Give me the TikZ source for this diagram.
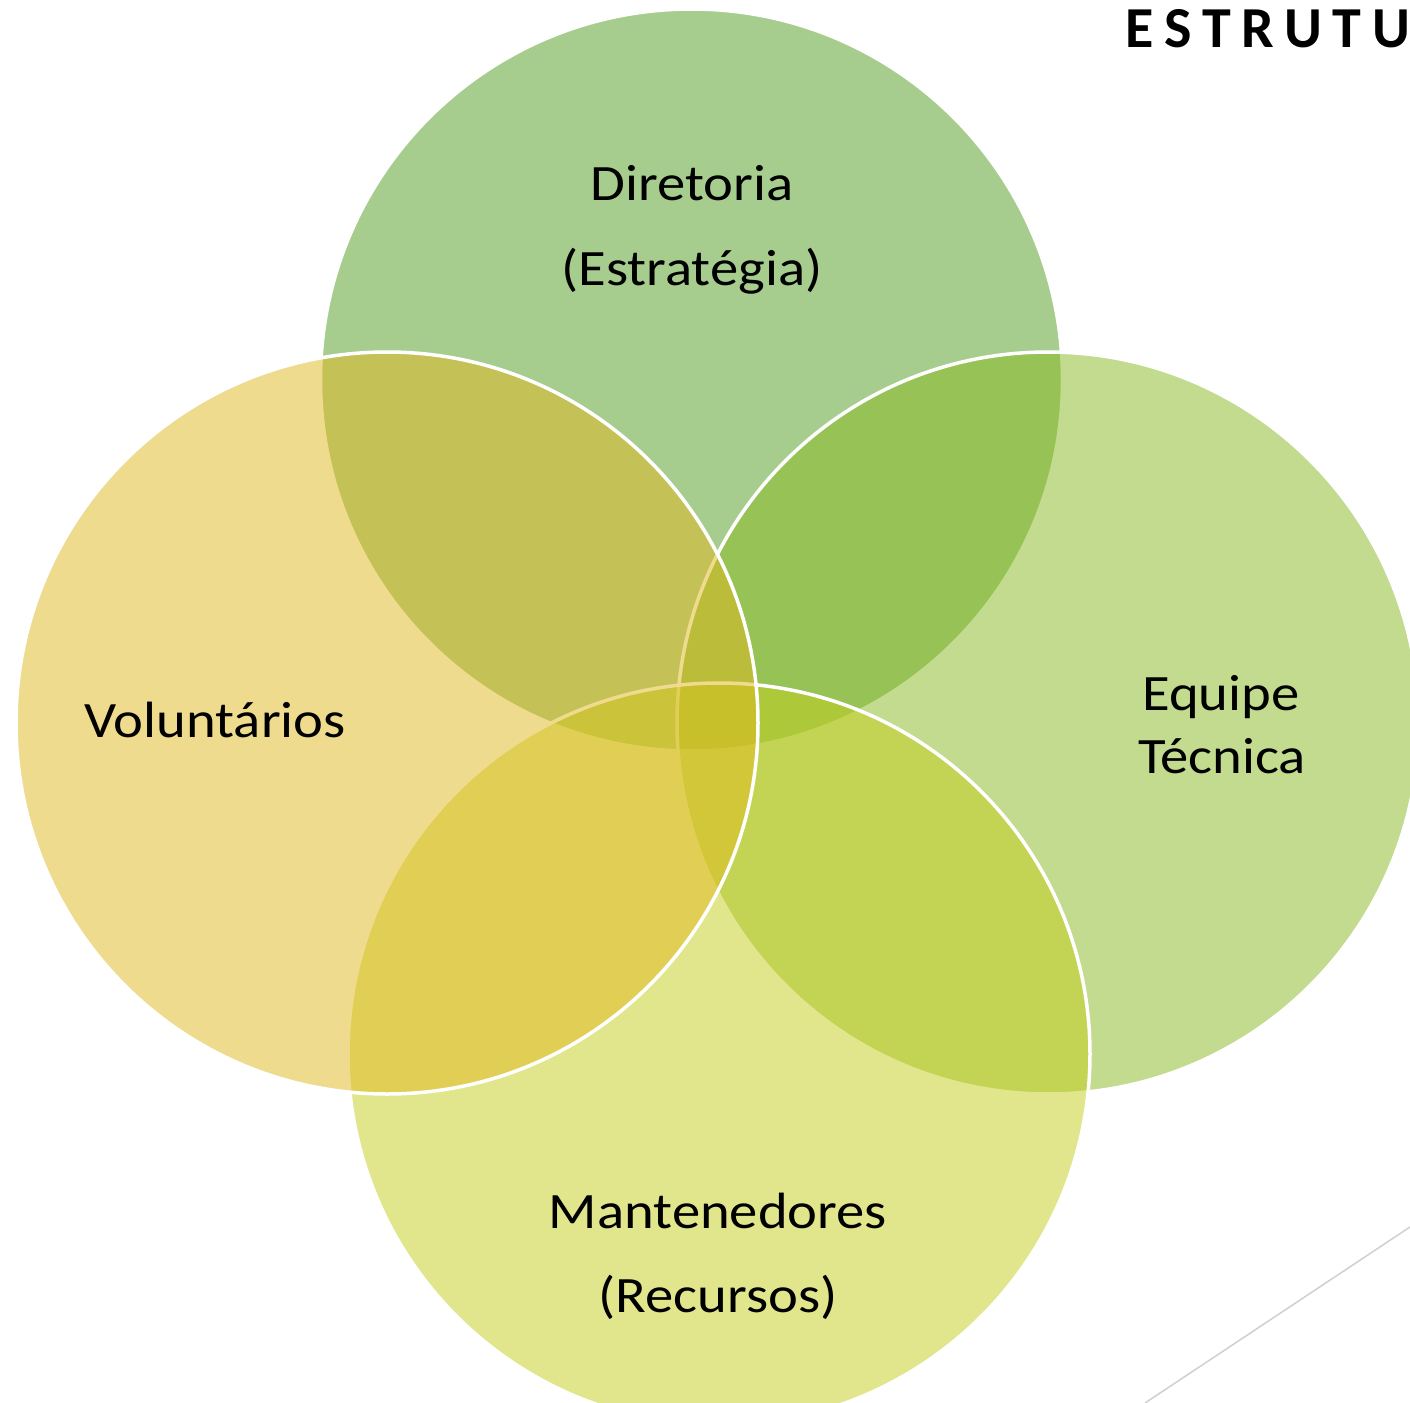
\documentclass[tikz,border=0pt]{standalone}
\usepackage{graphicx}
\usepackage{fontspec}
\setmainfont{Carlito}
\newfontfamily\titlefont[LetterSpace=19]{Carlito}
\definecolor{cTop}{RGB}{81,157,31}
\definecolor{cRight}{RGB}{135,185,31}
\definecolor{cBottom}{RGB}{197,207,27}
\definecolor{cLeft}{RGB}{225,185,31}
\definecolor{cLine}{RGB}{208,208,208}
\newcommand{\widetext}[1]{\scalebox{1.11}[1]{#1}}
\tikzset{
  venn/.style={fill opacity=0.5, draw=white, draw opacity=1, line width=1.75pt},
  lbl/.style={anchor=base, font=\fontsize{25.5pt}{30pt}\selectfont, text=black, inner sep=0pt},
}
\begin{document}
\begin{tikzpicture}[x=0.5pt,y=-0.5pt]
\useasboundingbox (0,0) rectangle (1410,1403);
\coordinate (cT) at (691.5,380);
\coordinate (cR) at (1048,723);
\coordinate (cB) at (719,1054);
\coordinate (cL) at (387,723);
\fill[white] (0,0) rectangle (1410,1403);
\draw[cLine, line width=0.75pt] (1410,1227) coordinate (g1) -- (1145,1403) coordinate (g2);
\path[venn, fill=cTop] (cT) circle[radius=185.5pt];
\path[venn, fill=cRight] (cR) circle[radius=185.5pt];
\path[venn, fill=cBottom] (cB) circle[radius=185.5pt];
\path[venn, fill=cLeft] (cL) circle[radius=185.5pt];
\node[lbl] (t1) at (692,200) {\widetext{Diretoria}};
\node[lbl] (t2) at (692,285) {\widetext{(Estratégia)}};
\node[lbl] (t3) at (215,737) {\widetext{Voluntários}};
\node[lbl] (t4) at (1221,710) {\widetext{Equipe}};
\node[lbl] (t5) at (1222,773) {\widetext{Técnica}};
\node[lbl] (t6) at (718,1228) {\widetext{Mantenedores}};
\node[lbl] (t7) at (718,1312) {\widetext{(Recursos)}};
\node[anchor=base west, inner sep=0pt, font=\titlefont\bfseries\fontsize{29pt}{34pt}\selectfont] (title) at (1125,47) {ESTRUTU};
\end{tikzpicture}
\end{document}
